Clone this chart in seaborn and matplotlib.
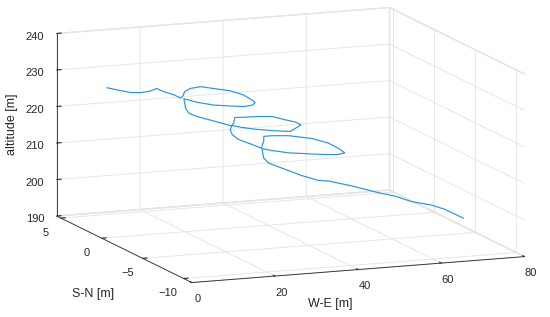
import numpy as np
import matplotlib
matplotlib.use("Agg")
import matplotlib.pyplot as plt
import matplotlib.transforms as mtransforms
import seaborn as sns

# flight track (W-E, S-N, altitude) in metres
we = [9.7, 11.9, 14.6, 16.7, 18.6, 19.7, 21.1, 23.1, 24.3, 25.5, 26.8, 29.2, 32.2, 35.4, 38.8,
      41.0, 42.0, 41.8, 40.3, 37.1, 33.5, 29.5, 26.3, 24.3, 23.8, 23.1, 22.9, 24.3, 27.7, 31.2,
      32.3, 33.6, 37.7, 40.5, 43.7, 46.3, 47.9, 48.3, 46.5, 43.9, 39.1, 35.3, 32.7, 31.1, 30.1,
      29.8, 30.6, 33.0, 34.6, 36.0, 37.0, 39.7, 44.1, 49.3, 52.5, 54.1, 54.7, 52.0, 47.6, 39.2,
      35.8, 34.4, 34.0, 34.6, 37.4, 40.2, 43.0, 44.7, 48.7, 53.5, 56.3, 59.1, 62.7, 64.9, 68.3]
sn = [4.3, 4.1, 3.9, 3.7, 3.5, 3.3, 3.1, 2.9, 2.7, 3.0, 3.5, 4.0, 4.3, 4.3, 4.0,
      3.5, 3.0, 2.5, 2.0, 1.5, 1.3, 1.3, 1.7, 2.3, 2.0, 1.5, 1.0, 0.7, 0.4, 0.0,
      0.3, 0.8, 1.2, 1.4, 1.4, 1.1, 0.7, 0.2, -0.2, -0.7, -0.9, -0.8, -0.5, -0.1, -0.4,
      -0.8, -1.2, -1.6, -1.9, -1.5, -1.0, -0.6, -0.4, -0.6, -1.0, -1.4, -1.9, -2.3, -2.7, -2.9,
      -2.6, -2.1, -2.5, -2.8, -3.4, -4.0, -4.6, -5.0, -5.8, -6.6, -7.2, -7.8, -8.4, -8.9, -9.5]
alt = [225.6, 225.0, 224.3, 224.3, 224.8, 225.6, 224.8, 224.0, 223.2, 223.5, 223.9, 224.0, 223.9, 223.1, 222.5,
       221.7, 220.8, 220.7, 220.7, 221.1, 221.8, 222.4, 223.0, 223.5, 223.1, 221.9, 221.1, 220.4, 219.2, 218.0,
       218.3, 219.2, 218.5, 218.2, 217.9, 217.1, 216.8, 216.6, 216.4, 216.1, 217.0, 217.6, 218.0, 218.2, 217.5,
       216.6, 215.6, 214.5, 213.7, 215.0, 215.7, 215.2, 214.6, 213.6, 212.5, 211.4, 210.6, 210.8, 211.7, 213.1,
       213.7, 213.8, 211.7, 210.6, 209.3, 208.0, 207.1, 207.2, 206.4, 205.0, 204.5, 203.4, 202.8, 202.0, 199.9]

x_ticks = [0, 20, 40, 60, 80]
y_ticks = [-10, -5, 0, 5]
z_ticks = [190, 200, 210, 220, 230, 240]

sns.set_style("white")
plt.rcParams["font.family"] = ["Liberation Sans", "DejaVu Sans"]
plt.rcParams["axes3d.grid"] = True
plt.rcParams["grid.color"] = "#e3e3e3"
plt.rcParams["grid.linewidth"] = 0.6

fig = plt.figure(figsize=(5.5, 3.17), dpi=100)
ax = fig.add_axes([0.0206, 0.029, 1, 1], projection="3d", proj_type="ortho")

# 3D axes get a square clip box, so switch clipping off to keep the whole track
ax.plot(we, sn, alt, color="#2b93d9", lw=0.85, clip_on=False)

ax.set_xlim(0, 80)
ax.set_ylim(-11, 5.5)
ax.set_zlim(190, 240)
ax.set_xticks(x_ticks)
ax.set_yticks(y_ticks)
ax.set_zticks(z_ticks)
ax.view_init(elev=11.3, azim=-111.7)
ax.set_box_aspect((1, 1.02, 0.52), zoom=1.667)

for axis in (ax.xaxis, ax.yaxis, ax.zaxis):
    axis.set_pane_color((1, 1, 1, 1))
    axis.pane.set_edgecolor("#e3e3e3")
    axis.line.set_color("#262626")
    axis.line.set_linewidth(0.6)
    axis._axinfo["tick"]["inward_factor"] = 0.0
    axis._axinfo["tick"]["outward_factor"] = 0.17
    axis._axinfo["tick"]["color"] = "#262626"
    axis._axinfo["grid"]["color"] = "#e3e3e3"
    axis._axinfo["grid"]["linewidth"] = 0.6
ax.tick_params(labelsize=8, colors="#262626", pad=-2.5)

# axis labels placed where MATLAB puts them
fig.text(0.600, 0.041, "W-E [m]", fontsize=9, color="#262626", ha="center", va="center")
fig.text(0.169, 0.073, "S-N [m]", fontsize=9, color="#262626", ha="center", va="center")
fig.text(0.022, 0.609, "altitude [m]", fontsize=9, color="#262626", ha="center", va="center",
         rotation=90)

# draw once so the ticks exist, then nudge tick labels (pixels) toward MATLAB's placement
fig.canvas.draw()
nudges = {ax.xaxis: (8, 4), ax.yaxis: (0, 3), ax.zaxis: (-1, 4)}
for axis, (dx, dy) in nudges.items():
    shift = mtransforms.ScaledTranslation(dx / 100, dy / 100, fig.dpi_scale_trans)
    for tick in axis.majorTicks:
        tick.label1.set_transform(tick.label1.get_transform() + shift)

fig.savefig("out.png", dpi=100)
